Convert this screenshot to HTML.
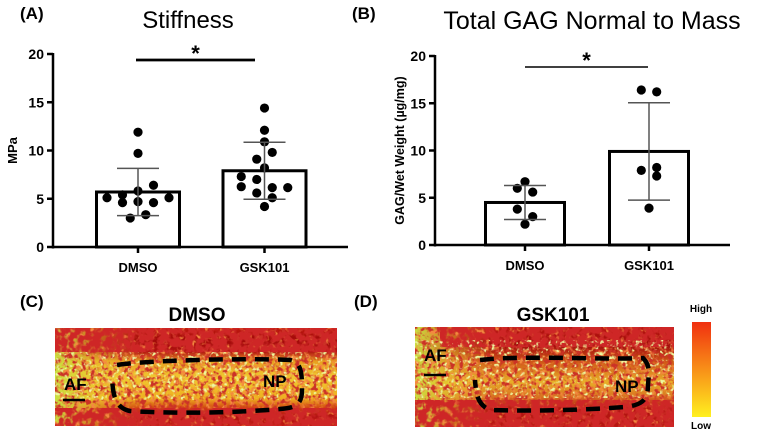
<!DOCTYPE html>
<html><head><meta charset="utf-8">
<style>
html,body{margin:0;padding:0;background:#fff;}
svg{display:block;font-family:"Liberation Sans",Arial,sans-serif;}
</style></head>
<body>
<svg id="fig" width="760" height="432" viewBox="0 0 760 432" xmlns="http://www.w3.org/2000/svg">
<defs>
<filter id="noise" x="0" y="0" width="100%" height="100%">
<feTurbulence type="fractalNoise" baseFrequency="0.22" numOctaves="2" seed="3" result="t"/>
<feColorMatrix in="t" type="matrix" values="0 0 0 0 0.6  0 0 0 0 0.03  0 0 0 0 0.02  5 0 0 0 -2.4" result="r"/>
<feComposite in="r" in2="SourceGraphic" operator="in"/>
</filter>
<filter id="noiseDark" x="0" y="0" width="100%" height="100%">
<feTurbulence type="fractalNoise" baseFrequency="0.15" numOctaves="2" seed="5" result="t"/>
<feColorMatrix in="t" type="matrix" values="0 0 0 0 0.62  0 0 0 0 0.02  0 0 0 0 0.02  5 0 0 0 -1.6" result="r"/>
<feComposite in="r" in2="SourceGraphic" operator="in"/>
</filter>
<filter id="noise2" x="0" y="0" width="100%" height="100%">
<feTurbulence type="fractalNoise" baseFrequency="0.25" numOctaves="2" seed="9" result="t"/>
<feColorMatrix in="t" type="matrix" values="0 0 0 0 0.85  0 0 0 0 0.95  0 0 0 0 0.35  0 5 0 0 -2.8" result="r"/>
<feComposite in="r" in2="SourceGraphic" operator="in"/>
</filter>
<filter id="noise3" x="0" y="0" width="100%" height="100%">
<feTurbulence type="fractalNoise" baseFrequency="0.2" numOctaves="2" seed="21" result="t"/>
<feColorMatrix in="t" type="matrix" values="0 0 0 0 0.9  0 0 0 0 0.25  0 0 0 0 0.05  0 0 5 0 -2.5" result="r"/>
<feComposite in="r" in2="SourceGraphic" operator="in"/>
</filter>
<linearGradient id="gC" x1="0" y1="0" x2="0" y2="1">
<stop offset="0" stop-color="#c01a10"/><stop offset="0.12" stop-color="#a00808"/>
<stop offset="0.24" stop-color="#b01210"/><stop offset="0.34" stop-color="#e8a020"/>
<stop offset="0.5" stop-color="#f0c830"/><stop offset="0.72" stop-color="#eeb020"/>
<stop offset="0.82" stop-color="#d04010"/><stop offset="0.9" stop-color="#b01010"/>
<stop offset="1" stop-color="#c01a10"/>
</linearGradient>
<linearGradient id="gD" x1="0" y1="0" x2="0" y2="1">
<stop offset="0" stop-color="#b81610"/><stop offset="0.18" stop-color="#a00a0a"/>
<stop offset="0.35" stop-color="#d05818"/><stop offset="0.55" stop-color="#e8b028"/>
<stop offset="0.7" stop-color="#d87020"/><stop offset="0.82" stop-color="#b01210"/>
<stop offset="1" stop-color="#b81610"/>
</linearGradient>
<linearGradient id="gL" x1="0" y1="0" x2="1" y2="0">
<stop offset="0" stop-color="#c8e040"/><stop offset="0.15" stop-color="#e8d030" stop-opacity="0.5"/>
<stop offset="0.3" stop-color="#e8d030" stop-opacity="0"/>
</linearGradient>
<linearGradient id="gBar" x1="0" y1="0" x2="0" y2="1">
<stop offset="0" stop-color="#f03010"/><stop offset="0.5" stop-color="#f89018"/><stop offset="1" stop-color="#fff020"/>
</linearGradient>
</defs>

<g id="panelA"></g>
<g id="panelB"></g>

<text x="20" y="19" font-size="17" font-weight="bold">(A)</text>
<text x="188" y="28" font-size="24" text-anchor="middle">Stiffness</text>
<text x="352" y="19" font-size="17" font-weight="bold">(B)</text>
<text x="592" y="29" font-size="25" text-anchor="middle">Total GAG Normal to Mass</text>

<text x="20" y="307" font-size="17" font-weight="bold">(C)</text>
<text x="197" y="321" font-size="19" font-weight="bold" text-anchor="middle">DMSO</text>
<g>
<rect x="55" y="328" width="282" height="98" fill="url(#gC)"/>
<rect x="55" y="328" width="282" height="98" fill="url(#gL)"/>
<rect x="55" y="328" width="282" height="98" fill="#000" filter="url(#noise3)"/>
<rect x="55" y="328" width="282" height="98" fill="#000" filter="url(#noise)"/>
<rect x="55" y="328" width="282" height="24" fill="#000" filter="url(#noiseDark)"/>
<rect x="55" y="408" width="282" height="18" fill="#000" filter="url(#noiseDark)"/>
<rect x="55" y="352" width="282" height="48" fill="#000" filter="url(#noise2)"/>
<path d="M117,365 C150,360 250,358 290,360 C302,362 302,375 302,390 C302,405 295,408 280,409 C220,414 160,413 130,411 C115,408 113,395 112,378" fill="none" stroke="#000" stroke-width="4.5" stroke-dasharray="14,9"/>
<text x="64" y="390" font-size="17" font-weight="bold">AF</text>
<line x1="63" y1="400" x2="85" y2="400" stroke="#000" stroke-width="2.5"/>
<text x="263" y="387" font-size="17" font-weight="bold">NP</text>
</g>

<text x="354" y="307" font-size="17" font-weight="bold">(D)</text>
<text x="553" y="321" font-size="19" font-weight="bold" text-anchor="middle">GSK101</text>
<g>
<rect x="415" y="327" width="259" height="100" fill="url(#gD)"/>
<rect x="415" y="327" width="259" height="100" fill="url(#gL)"/>
<rect x="415" y="327" width="259" height="100" fill="#000" filter="url(#noise3)"/>
<rect x="415" y="327" width="259" height="100" fill="#000" filter="url(#noise)"/>
<rect x="440" y="327" width="234" height="20" fill="#000" filter="url(#noiseDark)"/>
<rect x="415" y="400" width="259" height="27" fill="#000" filter="url(#noiseDark)"/>
<rect x="415" y="340" width="259" height="58" fill="#000" filter="url(#noise2)"/>
<path d="M480,360 C520,355 600,360 643,358 C650,365 649,372 648,385 C648,402 640,405 625,407 C570,411 520,411 490,410 C478,405 476,395 475,380" fill="none" stroke="#000" stroke-width="4.5" stroke-dasharray="14,9"/>
<text x="424" y="361" font-size="17" font-weight="bold">AF</text>
<line x1="424" y1="375" x2="446" y2="375" stroke="#000" stroke-width="2.5"/>
<text x="615" y="392" font-size="17" font-weight="bold">NP</text>
</g>

<text x="701" y="312" font-size="10" font-weight="bold" text-anchor="middle">High</text>
<rect x="692" y="322" width="19" height="95" fill="url(#gBar)"/>
<text x="701" y="429" font-size="10" font-weight="bold" text-anchor="middle">Low</text>
</svg>

<script>
// Panel A data
const aCategories = ["DMSO", "GSK101"];
const aMeans = [5.7, 7.9];
const aSD = [2.45, 2.95];
const aPointsDMSO = [11.9, 9.7, 6.4, 5.8, 5.4, 5.1, 4.6, 4.7, 4.6, 5.1, 3.0, 3.35];
const aPointsGSK = [14.4, 12.1, 10.9, 9.8, 9.1, 8.2, 7.3, 7.0, 6.25, 6.15, 6.15, 5.6, 5.1, 4.2];
const aTicks = [0, 5, 10, 15, 20];
// Panel B data
const bCategories = ["DMSO", "GSK101"];
const bMeans = [4.5, 9.9];
const bSD = [1.8, 5.15];
const bPointsDMSO = [6.7, 6.0, 5.6, 3.8, 3.0, 2.2];
const bPointsGSK = [16.4, 16.2, 7.9, 8.2, 7.3, 3.9];
const bTicks = [0, 5, 10, 15, 20];
// Horizontal scatter columns (layout only)
const aColsDMSO = [0, 0, 1, 0, -1, -2, -1, 0, 1, 2, -0.5, 0.5];
const aColsGSK = [0, 0, 0, 0.5, -0.5, 0, -1.5, -0.5, -1.5, 1.5, 0.5, -0.5, 0.5, 0];
const bColsDMSO = [0, -1, 1, -1, 1, 0];
const bColsGSK = [-1, 1, -1, 1, 1, 0];

const NS = "http://www.w3.org/2000/svg";
function mk(parent, tag, attrs, text) {
  const e = document.createElementNS(NS, tag);
  for (const k in attrs) e.setAttribute(k, attrs[k]);
  if (text !== undefined) e.textContent = text;
  parent.appendChild(e);
  return e;
}

function drawPanel(g, o) {
  const y = v => o.y0 - v * (o.y0 - o.y20) / 20;
  let ax = mk(g, "line", {x1:o.ax, y1:o.y20-1, x2:o.ax, y2:o.y0+1.5, stroke:"#000", "stroke-width":2.5});
  
  
  let xa = mk(g, "line", {x1:o.ax-1, y1:o.y0, x2:o.axEnd, y2:o.y0, stroke:"#000", "stroke-width":2.5});
  
  
  o.ticks.forEach(t => {
    mk(g, "line", {x1:o.ax-6, y1:y(t), x2:o.ax, y2:y(t), stroke:"#000", "stroke-width":2.5});
    const tl = mk(g, "text", {x:o.ax-9, y:y(t)+5, "font-size":14, "font-weight":"bold", "text-anchor":"end"}, String(t));
    
    
  });
  const yl = mk(g, "text", {x:0, y:0, "font-size":o.ylSize, "font-weight":"bold", "text-anchor":"middle",
    transform:`translate(${o.ylx},${(o.y0+o.y20)/2}) rotate(-90)`}, o.ylabel);
  
  
  o.cats.forEach((c, i) => {
    const cx = o.centers[i];
    const bar = mk(g, "rect", {x:cx-o.bw/2, y:y(o.means[i]), width:o.bw, height:o.y0-y(o.means[i]), fill:"#fff", stroke:"#000", "stroke-width":3});
    
    
    mk(g, "line", {x1:cx, y1:o.y0, x2:cx, y2:o.y0+6, stroke:"#000", "stroke-width":2.5});
    const xl = mk(g, "text", {x:cx, y:o.y0+25, "font-size":13, "font-weight":"bold", "text-anchor":"middle"}, c);
    
    
    const pts = o.points[i];
    const cols = o.cols[i];
    pts.forEach((v, j) => {
      const p = mk(g, "circle", {cx:cx + (cols[j] || 0)*o.colW, cy:y(v), r:4.6, fill:"#000"});
      
      
    });
    const hi = o.means[i] + o.sd[i], lo = o.means[i] - o.sd[i];
    const eb = mk(g, "g", {stroke:"#555", "stroke-width":1.5});
    
    
    mk(eb, "line", {x1:cx, y1:y(hi), x2:cx, y2:y(lo)});
    mk(eb, "line", {x1:cx-21, y1:y(hi), x2:cx+21, y2:y(hi)});
    mk(eb, "line", {x1:cx-21, y1:y(lo), x2:cx+21, y2:y(lo)});
  });
  const sb = mk(g, "line", {x1:o.sig[0], y1:o.sigY, x2:o.sig[1], y2:o.sigY, stroke:"#000", "stroke-width":o.sigW});
  
  
  const st = mk(g, "text", {x:(o.sig[0]+o.sig[1])/2, y:o.sigY+1, "font-size":22, "font-weight":"bold", "text-anchor":"middle"}, "*");
  
  
}

drawPanel(document.getElementById("panelA"), {
  ax:53, axEnd:348, y0:247, y20:54, bw:83, centers:[138,264.5], colW:15.5,
  cats:aCategories, means:aMeans, sd:aSD, points:[aPointsDMSO, aPointsGSK], cols:[aColsDMSO, aColsGSK], ticks:aTicks,
  ylabel:"MPa", ylx:17, ylSize:13, sig:[136,255], sigY:60, sigW:2.8
});
drawPanel(document.getElementById("panelB"), {
  ax:435, axEnd:730, y0:245, y20:56, bw:79, centers:[525,649], colW:7.7,
  cats:bCategories, means:bMeans, sd:bSD, points:[bPointsDMSO, bPointsGSK], cols:[bColsDMSO, bColsGSK], ticks:bTicks,
  ylabel:"GAG/Wet Weight (µg/mg)", ylx:404, ylSize:12.5, sig:[525,648], sigY:67, sigW:1.5
});
</script>
</body></html>
